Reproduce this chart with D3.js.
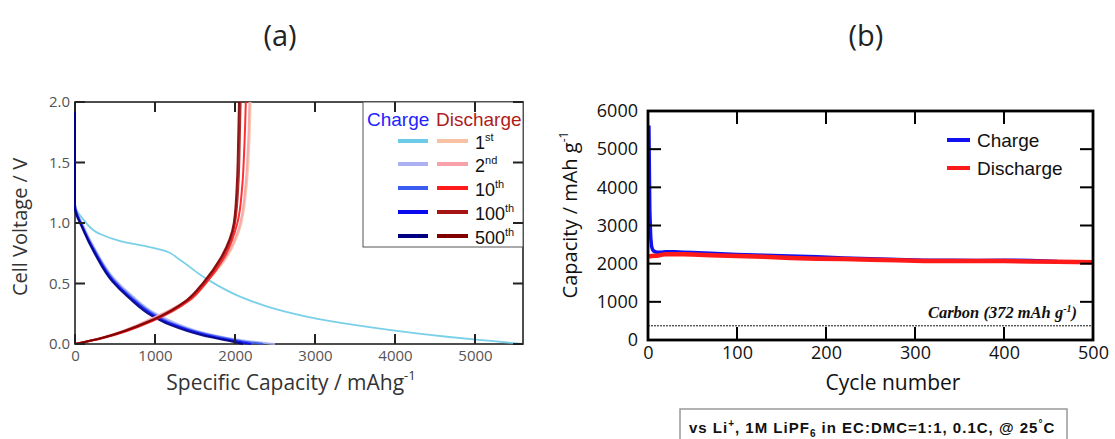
<!DOCTYPE html>
<html>
<script src="https://d3js.org/d3.v7.min.js"></script>
<style>
    body { margin: 0; background: #fff; }
    .ta .tick text { font-family: "Open Sans", sans-serif; font-size: 15px; fill: #555; }
    .tb .tick text { font-family: "Open Sans", sans-serif; font-size: 18px; fill: #111; }
    .domain { display: none; }
</style>
<body></body>
<script>
    // ---- panel (a): voltage profiles, [capacity mAh/g, voltage V]
    const cycleNames = ["1st", "2nd", "10th", "100th", "500th"];
    const chargeColors = ["#6ccbe6", "#aab0f2", "#3a5cf0", "#0a0aee", "#000080"];
    const dischargeColors = ["#f7c2a4", "#f7a2aa", "#ff1a1a", "#a51515", "#800000"];

    const charge1st = [[0, 2.0], [0, 1.6], [0, 1.15], [116, 1.02], [310, 0.91], [567, 0.85], [868, 0.81], [1125, 0.77], [1300, 0.70], [1640, 0.54], [2070, 0.39], [2500, 0.29], [3015, 0.21], [3790, 0.13], [4650, 0.06], [5200, 0.025], [5600, 0.0]];
    const charge2nd = [[0, 2.0], [0, 1.6], [0, 1.16], [100, 0.98], [270, 0.76], [490, 0.54], [710, 0.40], [1010, 0.25], [1230, 0.18], [1660, 0.085], [2100, 0.03], [2500, 0.0]];
    const charge10th = [[0, 2.0], [0, 1.6], [0, 1.15], [97, 0.97], [266, 0.75], [482, 0.53], [700, 0.39], [1000, 0.24], [1215, 0.17], [1645, 0.08], [2070, 0.025], [2350, 0.0]];
    const charge100th = [[0, 2.0], [0, 1.6], [0, 1.14], [94, 0.965], [260, 0.745], [472, 0.525], [688, 0.385], [985, 0.235], [1200, 0.165], [1625, 0.075], [2030, 0.02], [2200, 0.0]];
    const charge500th = [[0, 2.0], [0, 1.6], [0, 1.12], [90, 0.96], [252, 0.74], [462, 0.52], [675, 0.38], [965, 0.23], [1180, 0.16], [1600, 0.07], [1960, 0.02], [2100, 0.0]];

    const discharge1st = [[0, 0], [352, 0.055], [1000, 0.22], [1420, 0.37], [1640, 0.51], [1860, 0.68], [2060, 0.95], [2145, 1.3], [2175, 1.6], [2195, 2.0]];
    const discharge2nd = [[0, 0], [350, 0.055], [990, 0.22], [1415, 0.37], [1635, 0.51], [1855, 0.69], [2050, 0.96], [2130, 1.3], [2160, 1.6], [2180, 2.0]];
    const discharge10th = [[0, 0], [352, 0.05], [1000, 0.2], [1430, 0.36], [1645, 0.51], [1860, 0.71], [2030, 1.0], [2090, 1.3], [2115, 1.6], [2135, 2.0]];
    const discharge100th = [[0, 0], [340, 0.05], [980, 0.2], [1405, 0.36], [1620, 0.51], [1835, 0.71], [2000, 1.0], [2045, 1.35], [2060, 1.7], [2070, 2.0]];
    const discharge500th = [[0, 0], [330, 0.05], [965, 0.2], [1390, 0.36], [1605, 0.51], [1820, 0.71], [1985, 1.0], [2025, 1.35], [2040, 1.7], [2050, 2.0]];

    const chargeCurves = [charge1st, charge2nd, charge10th, charge100th, charge500th];
    const dischargeCurves = [discharge1st, discharge2nd, discharge10th, discharge100th, discharge500th];
    const capTicks = [0, 1000, 2000, 3000, 4000, 5000];
    const voltTicks = [0, 0.5, 1.0, 1.5, 2.0];

    // ---- panel (b): capacity vs cycle
    const cycles = [1, 2, 3, 4, 5, 6, 8, 10, 15, 20, 30, 40, 50, 70, 100, 130, 160, 190, 220, 250, 280, 310, 340, 370, 400, 430, 460, 500];
    const chargeCap = [5620, 3400, 2700, 2450, 2380, 2340, 2310, 2300, 2300, 2310, 2310, 2300, 2290, 2270, 2240, 2220, 2200, 2180, 2150, 2130, 2110, 2090, 2090, 2080, 2090, 2085, 2060, 2050];
    const dischargeCap = [2180, 2190, 2195, 2200, 2200, 2205, 2205, 2210, 2230, 2250, 2250, 2245, 2240, 2220, 2200, 2180, 2150, 2130, 2120, 2100, 2090, 2070, 2070, 2070, 2070, 2060, 2050, 2040];
    const cycleTicks = [0, 100, 200, 300, 400, 500];
    const capBTicks = [0, 1000, 2000, 3000, 4000, 5000, 6000];
    const carbonCap = 372;

    const width = 1115, height = 439;
    const svg = d3.select("body").append("svg").attr("width", width).attr("height", height);

    // titles
    svg.append("text").attr("x", 280).attr("y", 46).attr("text-anchor", "middle")
        .attr("font-family", "Open Sans").attr("font-size", 29).attr("fill", "#222").text("(a)");
    svg.append("text").attr("x", 866).attr("y", 46).attr("text-anchor", "middle")
        .attr("font-family", "Open Sans").attr("font-size", 29).attr("fill", "#222").text("(b)");

    // ================= panel a
    const xa = d3.scaleLinear().domain([0, 5600]).range([75, 523]);
    const ya = d3.scaleLinear().domain([0, 2]).range([344, 102]);
    const ga = svg.append("g").attr("class", "ta");

    ga.append("g").attr("transform", `translate(0,${ya(0)})`)
        .call(d3.axisBottom(xa).tickValues(capTicks).tickFormat(d => d).tickSize(0).tickPadding(6));
    ga.append("g").attr("transform", `translate(${xa(0)},0)`)
        .call(d3.axisLeft(ya).tickValues(voltTicks).tickFormat(d3.format(".1f")).tickSize(0).tickPadding(5));

    ga.append("rect").attr("x", xa(0)).attr("y", ya(2)).attr("width", xa(5600) - xa(0)).attr("height", ya(0) - ya(2))
        .attr("fill", "none").attr("stroke", "#222").attr("stroke-width", 1.6);

    const lineA = d3.line().x(d => xa(d[0])).y(d => ya(d[1])).curve(d3.curveMonotoneY);
    chargeCurves.forEach((c, i) => {
        ga.append("path").datum(c).attr("fill", "none").attr("stroke", chargeColors[i])
            .attr("stroke-width", i === 0 ? 1.8 : 2).attr("opacity", 0.9).attr("d", lineA);
    });
    dischargeCurves.forEach((c, i) => {
        ga.append("path").datum(c).attr("fill", "none").attr("stroke", dischargeColors[i])
            .attr("stroke-width", 2).attr("opacity", 0.9).attr("d", lineA);
    });

    // legend a
    const lg = ga.append("g");
    lg.append("rect").attr("x", 363).attr("y", 102).attr("width", 160).attr("height", 145)
        .attr("fill", "#fff").attr("stroke", "#555").attr("stroke-width", 1);
    lg.append("text").attr("x", 367).attr("y", 126).attr("font-family", "Liberation Sans").attr("font-size", 19)
        .attr("fill", "#2323ff").text("Charge");
    lg.append("text").attr("x", 436).attr("y", 126).attr("font-family", "Liberation Sans").attr("font-size", 19)
        .attr("fill", "#b01c1c").text("Discharge");
    const rowY = [141, 164, 188, 212, 236];
    cycleNames.forEach((n, i) => {
        lg.append("line").attr("x1", 398).attr("x2", 428).attr("y1", rowY[i]).attr("y2", rowY[i])
            .attr("stroke", chargeColors[i]).attr("stroke-width", 4);
        lg.append("line").attr("x1", 437).attr("x2", 468).attr("y1", rowY[i]).attr("y2", rowY[i])
            .attr("stroke", dischargeColors[i]).attr("stroke-width", 4);
        const num = n.replace(/[a-z]+$/, ""), suf = n.slice(num.length);
        const t = lg.append("text").attr("x", 475).attr("y", rowY[i] + 8)
            .attr("font-family", "Liberation Sans").attr("font-size", 18).attr("fill", "#111");
        t.append("tspan").text(num);
        t.append("tspan").attr("font-size", 11).attr("dy", -8).text(suf);
    });

    // axis titles a
    svg.append("text").attr("transform", "translate(27,227) rotate(-90)").attr("text-anchor", "middle")
        .attr("font-family", "Open Sans").attr("font-size", 20).attr("fill", "#333").text("Cell Voltage / V");
    const xtA = svg.append("text").attr("x", 291).attr("y", 390).attr("text-anchor", "middle")
        .attr("font-family", "Open Sans").attr("font-size", 21).attr("fill", "#333");
    xtA.append("tspan").text("Specific Capacity / mAhg");
    xtA.append("tspan").attr("font-size", 13).attr("dy", -10).text("-1");

    // ================= panel b
    const xb = d3.scaleLinear().domain([0, 500]).range([648, 1093]);
    const yb = d3.scaleLinear().domain([0, 6000]).range([340, 111]);
    const gb = svg.append("g").attr("class", "tb");

    gb.append("g").attr("transform", `translate(0,${yb(0)})`)
        .call(d3.axisBottom(xb).tickValues(cycleTicks).tickFormat(d => d).tickSize(0).tickPadding(6));
    gb.append("g").attr("transform", `translate(${xb(0)},0)`)
        .call(d3.axisLeft(yb).tickValues(capBTicks).tickFormat(d => d).tickSize(0).tickPadding(10));

    // carbon reference
    gb.append("line").attr("x1", xb(0)).attr("x2", xb(500)).attr("y1", yb(carbonCap)).attr("y2", yb(carbonCap))
        .attr("stroke", "#111").attr("stroke-width", 1).attr("stroke-dasharray", "2,1");
    const ct = gb.append("text").attr("x", 1077).attr("y", 318).attr("text-anchor", "end")
        .attr("font-family", "Liberation Serif").attr("font-style", "italic").attr("font-weight", "bold")
        .attr("font-size", 16.5).attr("fill", "#111");
    ct.append("tspan").text(`Carbon (${carbonCap} mAh g`);
    ct.append("tspan").attr("font-size", 10).attr("dy", -6).text("-1");
    ct.append("tspan").attr("dy", 6).text(")");

    const lineB = v => d3.line().x((d, i) => xb(cycles[i])).y(d => yb(d))(v);
    gb.append("path").attr("d", lineB(chargeCap)).attr("fill", "none").attr("stroke", "#1010f0").attr("stroke-width", 3.5);
    gb.append("path").attr("d", lineB(dischargeCap)).attr("fill", "none").attr("stroke", "#ff1a1a").attr("stroke-width", 4.5);

    gb.append("rect").attr("x", xb(0)).attr("y", yb(6000)).attr("width", xb(500) - xb(0)).attr("height", yb(0) - yb(6000))
        .attr("fill", "none").attr("stroke", "#000").attr("stroke-width", 2.8);

    // legend b
    [["Charge", "#1010f0", 140], ["Discharge", "#ff1a1a", 168]].forEach(([name, col, y]) => {
        gb.append("line").attr("x1", 947).attr("x2", 970).attr("y1", y).attr("y2", y).attr("stroke", col).attr("stroke-width", 4);
        gb.append("text").attr("x", 977).attr("y", y + 7).attr("font-family", "Liberation Sans").attr("font-size", 19)
            .attr("fill", "#111").text(name);
    });

    // axis titles b
    const ytB = svg.append("text").attr("transform", "translate(577,215) rotate(-90)").attr("text-anchor", "middle")
        .attr("font-family", "Open Sans").attr("font-size", 20).attr("fill", "#111");
    ytB.append("tspan").text("Capacity / mAh g");
    ytB.append("tspan").attr("font-size", 12).attr("dy", -9).text("-1");
    svg.append("text").attr("x", 893).attr("y", 390).attr("text-anchor", "middle")
        .attr("font-family", "Open Sans").attr("font-size", 21).attr("fill", "#111").text("Cycle number");

    // conditions box
    svg.append("rect").attr("x", 680).attr("y", 409).attr("width", 387).attr("height", 40)
        .attr("fill", "#fff").attr("stroke", "#999").attr("stroke-width", 1.5);
    const cond = svg.append("text").attr("x", 689).attr("y", 433)
        .attr("font-family", "Liberation Sans").attr("font-weight", "bold").attr("font-size", 15)
        .attr("letter-spacing", 1).attr("fill", "#111");
    cond.append("tspan").text("vs Li");
    cond.append("tspan").attr("font-size", 10).attr("dy", -6).text("+");
    cond.append("tspan").attr("dy", 6).text(", 1M LiPF");
    cond.append("tspan").attr("font-size", 10).attr("dy", 4).text("6");
    cond.append("tspan").attr("dy", -4).text(" in EC:DMC=1:1, 0.1C, @ 25");
    cond.append("tspan").attr("font-size", 10).attr("dy", -6).text("°");
    cond.append("tspan").attr("dy", 6).text("C");

    // inner frame ticks on all four sides, as small filled bars
    const frames = [
        { x: xa, y: ya, xt: capTicks, yt: voltTicks, len: 10, col: "#222" },
        { x: xb, y: yb, xt: cycleTicks, yt: capBTicks, len: 13, col: "#000" }
    ];
    const tw = 2;
    frames.forEach(f => {
        const xr = f.x.range(), yr = f.y.range();
        f.xt.forEach(v => {
            svg.append("rect").attr("x", f.x(v) - tw / 2).attr("y", yr[0] - f.len).attr("width", tw).attr("height", f.len).attr("fill", f.col);
            svg.append("rect").attr("x", f.x(v) - tw / 2).attr("y", yr[1]).attr("width", tw).attr("height", f.len).attr("fill", f.col);
        });
        f.yt.forEach(v => {
            svg.append("rect").attr("x", xr[0]).attr("y", f.y(v) - tw / 2).attr("width", f.len).attr("height", tw).attr("fill", f.col);
            svg.append("rect").attr("x", xr[1] - f.len).attr("y", f.y(v) - tw / 2).attr("width", f.len).attr("height", tw).attr("fill", f.col);
        });
    });
</script>
</html>
